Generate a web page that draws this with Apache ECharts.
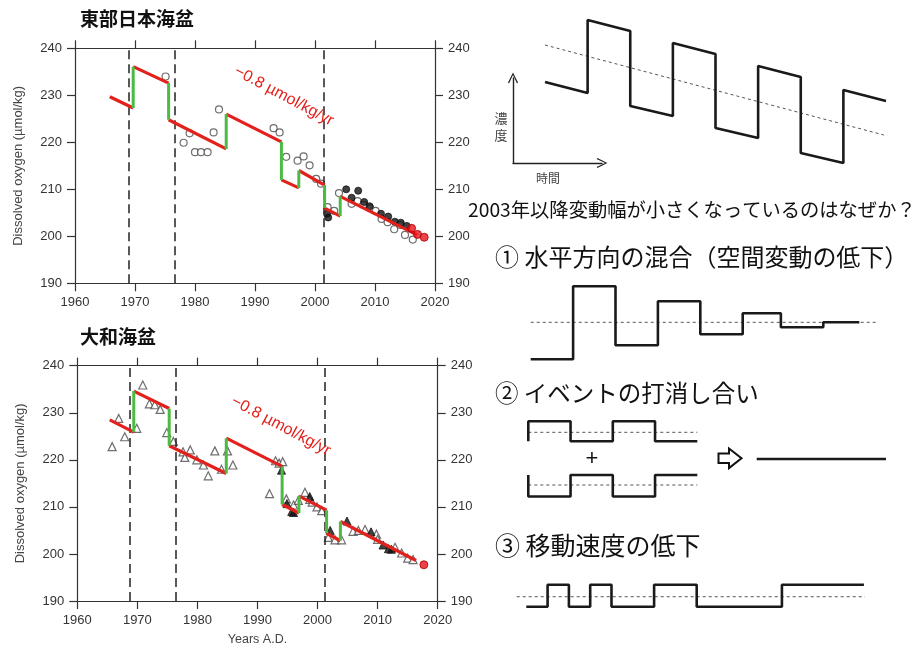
<!DOCTYPE html>
<html>
<head>
<meta charset="utf-8">
<script src="https://cdn.jsdelivr.net/npm/echarts@6/dist/echarts.min.js"></script>
<style>
  html, body { margin: 0; padding: 0; background: #fff; }
  #chart { width: 915px; height: 651px; }
</style>
</head>
<body>
<div id="chart"></div>
<script>
// ---------- 東部日本海盆 (Eastern Japan Basin) ----------
// trend segments: [startYear, startValue, endYear, endValue]
const eastSegments = [
  [1965.8, 229.7, 1969.7, 227.3],
  [1969.7, 236.1, 1975.6, 232.6],
  [1975.6, 224.8, 1985.2, 218.6],
  [1985.2, 226.0, 1994.4, 220.1],
  [1994.4, 212.0, 1997.3, 210.3],
  [1997.3, 214.0, 2001.6, 210.9],
  [2001.6, 206.0, 2004.2, 204.3],
  [2004.2, 208.5, 2017.0, 200.3]
];
const eastOpen = [
  [1975.1, 234.0], [1978.1, 219.9], [1979.1, 221.9], [1980.0, 217.9], [1981.0, 217.9],
  [1982.1, 217.9], [1983.1, 222.1], [1984.0, 227.0], [1993.1, 223.0], [1994.1, 222.1],
  [1995.2, 216.9], [1997.1, 216.1], [1998.1, 217.0], [1999.1, 215.1], [2000.2, 212.2],
  [2001.0, 211.2], [2002.1, 206.2], [2003.2, 205.4], [2004.0, 209.2], [2006.1, 206.9],
  [2007.1, 207.5], [2008.1, 206.7], [2009.2, 206.0], [2010.1, 205.4], [2011.1, 203.7],
  [2012.1, 203.0], [2013.2, 201.5], [2014.2, 202.4], [2015.0, 200.3], [2016.3, 199.3]
];
const eastBlack = [
  [2002.0, 204.8], [2002.2, 204.0], [2005.2, 210.0], [2006.1, 208.2], [2007.2, 209.7],
  [2008.2, 207.3], [2009.1, 206.4], [2011.0, 204.8], [2012.2, 204.2], [2013.3, 203.1],
  [2014.3, 202.9], [2015.3, 202.2]
];
const eastRed = [[2016.1, 201.7], [2017.1, 200.4], [2018.2, 199.8]];
const eastBreaks = [1968.9, 1976.7, 2001.5];

// ---------- 大和海盆 (Yamato Basin) ----------
const yamatoSegments = [
  [1965.4, 228.5, 1969.4, 225.9],
  [1969.4, 234.6, 1975.3, 230.9],
  [1975.3, 223.0, 1984.8, 217.1],
  [1984.8, 224.6, 1994.1, 218.6],
  [1994.1, 210.5, 1996.9, 208.7],
  [1996.9, 212.3, 2001.5, 209.3],
  [2001.5, 204.4, 2003.8, 202.8],
  [2003.8, 206.9, 2016.4, 198.6]
];
const yamatoOpen = [
  [1965.8, 222.8], [1966.9, 228.8], [1967.9, 224.9], [1969.9, 226.7], [1970.9, 235.9],
  [1972.0, 231.9], [1972.9, 231.7], [1973.8, 230.7], [1974.9, 225.8], [1976.0, 223.9],
  [1977.6, 221.7], [1977.9, 220.5], [1978.8, 222.1], [1979.9, 220.0], [1981.0, 218.9],
  [1981.8, 216.6], [1982.9, 221.9], [1984.0, 218.0], [1985.0, 221.9], [1985.9, 218.9],
  [1992.0, 212.8], [1993.0, 219.8], [1993.6, 219.3], [1994.2, 219.6], [1994.8, 211.7],
  [1996.0, 210.4], [1996.8, 211.4], [1997.9, 213.1], [1998.7, 211.6], [1999.1, 211.0],
  [1999.9, 210.0], [2000.7, 209.2], [2001.8, 203.5], [2002.9, 203.0], [2004.0, 203.0],
  [2005.9, 204.8], [2006.8, 205.0], [2007.9, 205.2], [2009.8, 204.2], [2010.0, 203.1],
  [2012.9, 201.4], [2014.0, 200.2], [2015.0, 199.1], [2015.9, 198.8]
];
const yamatoFilled = [
  [1994.0, 217.8], [1994.9, 210.7], [1995.7, 209.0], [1996.0, 208.8], [1998.7, 212.2],
  [2002.1, 205.0], [2004.9, 207.0], [2008.9, 204.7], [2010.9, 201.9], [2011.8, 201.1],
  [2012.3, 201.0]
];
const yamatoRed = [[2017.7, 197.7]];
const yamatoBreaks = [1968.7, 1976.4, 2001.2];

const yearRange = [1960, 2020, 10];
const oxygenRange = [190, 240, 10];
const trendText = '−0.8 µmol/kg/yr';

// ---------- schematic panels (arbitrary units) ----------
const sawTime = [0, 1, 1, 2, 2, 3, 3, 4, 4, 5, 5, 6, 6, 7, 7, 8];
const sawConc = [8.3, 7.2, 14.5, 13.4, 5.9, 4.9, 12.2, 11.1, 3.7, 2.7, 9.9, 8.8, 1.2, 0.2, 7.5, 6.4];
const sawTrend = [[0, 12.0], [7.95, 3.0]];

const mixBounds = [0, 1, 2, 3, 4, 5, 5.9, 6.9, 7.75];
const mixLevels = [-3.7, 3.6, -2.3, 2.1, -1.2, 0.9, -0.5, 0];
const mixSpan = 8.2;

const waveBounds = [0, 1, 2, 3, 4];
const waveA = [1.1, -0.9, 1.1, -0.9];
const waveAStart = -0.9;
const waveB = [-1.15, 1.0, -1.15, 1.0];
const waveBStart = 1.0;
const resultLevel = 0;

const moveBounds = [0.45, 1.45, 2.45, 3.45, 4.45, 6.45, 8.45, 12.45, 16.3];
const moveLevels = [-1.0, 1.2, -1.0, 1.2, -1.0, 1.2, -1.0, 1.2];
const moveSpan = 16.35;

// ---------- helpers ----------
const LATIN = 'Liberation Sans, Arial, sans-serif';
const JP = 'Noto Sans CJK JP, sans-serif';
const RED = '#e3211c';
const GREEN = '#4cbb44';
const INK = '#1a1a1a';

function stepPoints(bounds, levels, start) {
  const pts = [];
  if (start !== undefined) pts.push([bounds[0], start]);
  for (let i = 0; i < levels.length; i++) {
    pts.push([bounds[i], levels[i]]);
    pts.push([bounds[i + 1], levels[i]]);
  }
  return pts;
}

function basinSeries(segs, open, filled, red, breaks, axisIdx, openSymbol, openSize, filledSymbol) {
  const out = [];
  out.push({
    type: 'scatter', xAxisIndex: axisIdx, yAxisIndex: axisIdx, z: 3,
    symbol: openSymbol, symbolSize: openSize, data: open,
    itemStyle: { color: '#fff', borderColor: '#4a4a4a', borderWidth: 1.2 },
    markLine: {
      silent: true, symbol: ['none', 'none'], label: { show: false },
      lineStyle: { color: '#222', width: 1.5, type: [9, 5] },
      data: breaks.map(x => ({ xAxis: x }))
    }
  });
  out.push({
    type: 'scatter', xAxisIndex: axisIdx, yAxisIndex: axisIdx, z: 4,
    symbol: filledSymbol, symbolSize: openSize, data: filled,
    itemStyle: { color: '#111', borderColor: '#111', borderWidth: 1 }
  });
  segs.forEach((s, i) => {
    out.push({
      type: 'line', xAxisIndex: axisIdx, yAxisIndex: axisIdx, z: 5,
      symbol: 'none', data: [[s[0], s[1]], [s[2], s[3]]],
      lineStyle: { color: RED, width: 3.2 }
    });
    if (i > 0) {
      const p = segs[i - 1];
      out.push({
        type: 'line', xAxisIndex: axisIdx, yAxisIndex: axisIdx, z: 5,
        symbol: 'none', data: [[s[0], p[3]], [s[0], s[1]]],
        lineStyle: { color: GREEN, width: 3 }
      });
    }
  });
  out.push({
    type: 'scatter', xAxisIndex: axisIdx, yAxisIndex: axisIdx, z: 6,
    symbol: 'circle', symbolSize: 8, data: red,
    itemStyle: { color: '#e8141a', borderColor: '#a00', borderWidth: 1 }
  });
  return out;
}

const tickLabel = { color: '#333', fontSize: 13, fontFamily: LATIN, margin: 13, formatter: v => String(v) };
const axisLine = { show: true, onZero: false, lineStyle: { color: '#333', width: 1.2 } };
const axisTick = { show: true, length: 8, lineStyle: { color: '#333', width: 1.2 } };

function yearAxis(grid, pos, labels, name) {
  return {
    type: 'value', gridIndex: grid, position: pos,
    min: yearRange[0], max: yearRange[1], interval: yearRange[2],
    axisLine, axisTick, splitLine: { show: false },
    axisLabel: Object.assign({}, tickLabel, { show: labels }),
    name: name || '', nameLocation: 'middle', nameGap: 32,
    nameTextStyle: { fontFamily: LATIN, fontSize: 12.5, color: '#444' }
  };
}
function oxyAxis(grid, pos, name) {
  return {
    type: 'value', gridIndex: grid, position: pos,
    min: oxygenRange[0], max: oxygenRange[1], interval: oxygenRange[2],
    axisLine, axisTick, splitLine: { show: false },
    axisLabel: tickLabel,
    name: name || '', nameLocation: 'middle', nameGap: 50, nameRotate: 90,
    nameTextStyle: { fontFamily: LATIN, fontSize: 13, color: '#444' }
  };
}
function hiddenAxis(grid, min, max) {
  return { type: 'value', gridIndex: grid, min, max, show: false };
}

const chevron = 'path://M0,10 L5,0 L10,10 L9,10.8 L5,2.4 L1,10.8 Z';

const option = {
  animation: false,
  backgroundColor: '#fff',
  title: [
    { text: '東部日本海盆', left: 80, top: 9, padding: 0,
      textStyle: { fontFamily: JP, fontSize: 19, fontWeight: 'bold', color: '#111' } },
    { text: '大和海盆', left: 80, top: 327, padding: 0,
      textStyle: { fontFamily: JP, fontSize: 19, fontWeight: 'bold', color: '#111' } }
  ],
  grid: [
    { left: 75, top: 48.3, width: 360, height: 235 },
    { left: 77.3, top: 365.7, width: 360.4, height: 235.3 },
    { left: 545, top: 15, width: 341, height: 150 },
    { left: 513, top: 78, width: 89, height: 85 },
    { left: 530.7, top: 282.3, width: 347.7, height: 80 },
    { left: 528.3, top: 412.3, width: 169, height: 40 },
    { left: 528.3, top: 465, width: 169, height: 40 },
    { left: 756.7, top: 439, width: 129.3, height: 40 },
    { left: 516.7, top: 576.7, width: 348.3, height: 40 }
  ],
  xAxis: [
    yearAxis(0, 'bottom', true),
    yearAxis(0, 'top', false),
    yearAxis(1, 'bottom', true, 'Years A.D.'),
    yearAxis(1, 'top', false),
    hiddenAxis(2, 0, 8),
    { type: 'value', gridIndex: 3, min: 0, max: 1,
      axisLine: { show: true, onZero: false, symbol: ['none', chevron], symbolSize: [10, 11],
        lineStyle: { color: '#222', width: 1.4 } },
      axisTick: { show: false }, axisLabel: { show: false }, splitLine: { show: false } },
    hiddenAxis(4, 0, mixSpan),
    hiddenAxis(5, 0, 4),
    hiddenAxis(6, 0, 4),
    hiddenAxis(7, 0, 1),
    hiddenAxis(8, 0, moveSpan)
  ],
  yAxis: [
    oxyAxis(0, 'left', 'Dissolved oxygen (µmol/kg)'),
    oxyAxis(0, 'right'),
    oxyAxis(1, 'left', 'Dissolved oxygen (µmol/kg)'),
    oxyAxis(1, 'right'),
    hiddenAxis(2, 0, 15),
    { type: 'value', gridIndex: 3, min: 0, max: 1,
      axisLine: { show: true, onZero: false, symbol: ['none', chevron], symbolSize: [10, 11],
        lineStyle: { color: '#222', width: 1.4 } },
      axisTick: { show: false }, axisLabel: { show: false }, splitLine: { show: false } },
    hiddenAxis(4, -4, 4),
    hiddenAxis(5, -2, 2),
    hiddenAxis(6, -2, 2),
    hiddenAxis(7, -2, 2),
    hiddenAxis(8, -2, 2)
  ],
  series: [],
  graphic: []
};

option.series.push(...basinSeries(eastSegments, eastOpen, eastBlack, eastRed, eastBreaks, 0, 'circle', 7, 'circle'));
option.series.push(...basinSeries(yamatoSegments, yamatoOpen, yamatoFilled, yamatoRed, yamatoBreaks, 2, 'triangle', 8, 'triangle'));

const dotted = { color: '#555', width: 1, type: [3, 3] };
const bold = { color: INK, width: 2.6 };

// concentration vs. time sawtooth with its long-term trend
option.series.push(
  { type: 'line', xAxisIndex: 4, yAxisIndex: 4, symbol: 'none', data: sawTrend, lineStyle: dotted },
  { type: 'line', xAxisIndex: 4, yAxisIndex: 4, symbol: 'none',
    data: sawTime.map((t, i) => [t, sawConc[i]]), lineStyle: bold }
);
// ① horizontal mixing: decaying anomalies
option.series.push(
  { type: 'line', xAxisIndex: 6, yAxisIndex: 6, symbol: 'none', data: [[0, 0], [mixSpan, 0]], lineStyle: dotted },
  { type: 'line', xAxisIndex: 6, yAxisIndex: 6, symbol: 'none', data: stepPoints(mixBounds, mixLevels), lineStyle: bold }
);
// ② two events cancelling each other
option.series.push(
  { type: 'line', xAxisIndex: 7, yAxisIndex: 7, symbol: 'none', data: [[0, 0], [4, 0]], lineStyle: dotted },
  { type: 'line', xAxisIndex: 7, yAxisIndex: 7, symbol: 'none', data: stepPoints(waveBounds, waveA, waveAStart), lineStyle: bold },
  { type: 'line', xAxisIndex: 8, yAxisIndex: 8, symbol: 'none', data: [[0, 0], [4, 0]], lineStyle: dotted },
  { type: 'line', xAxisIndex: 8, yAxisIndex: 8, symbol: 'none', data: stepPoints(waveBounds, waveB, waveBStart), lineStyle: bold },
  { type: 'line', xAxisIndex: 9, yAxisIndex: 9, symbol: 'none', data: [[0, resultLevel], [1, resultLevel]], lineStyle: bold }
);
// ③ slower movement: longer, sparser anomalies
option.series.push(
  { type: 'line', xAxisIndex: 10, yAxisIndex: 10, symbol: 'none', data: [[0, 0], [moveSpan, 0]], lineStyle: dotted },
  { type: 'line', xAxisIndex: 10, yAxisIndex: 10, symbol: 'none', data: stepPoints(moveBounds, moveLevels), lineStyle: bold }
);

function txt(x, y, text, size, opts) {
  return Object.assign({
    type: 'text', x, y, z: 20,
    style: Object.assign({
      text, fill: '#111', font: size + 'px ' + JP,
      textAlign: 'left', align: 'left', textVerticalAlign: 'middle', verticalAlign: 'middle'
    }, (opts && opts.style) || {})
  }, (opts && opts.el) || {});
}
const rot = -28 * Math.PI / 180;
const centred = { textAlign: 'center', align: 'center' };
option.graphic.push(
  txt(284, 96, trendText, 16, { style: { fill: RED, font: '16px ' + LATIN, textAlign: 'center', align: 'center' }, el: { rotation: rot } }),
  txt(281, 426, trendText, 16, { style: { fill: RED, font: '16px ' + LATIN, textAlign: 'center', align: 'center' }, el: { rotation: rot } }),
  txt(501, 118, '濃', 13, { style: Object.assign({ fill: '#444' }, centred) }),
  txt(501, 135, '度', 13, { style: Object.assign({ fill: '#444' }, centred) }),
  txt(548, 178, '時間', 12, { style: Object.assign({ fill: '#444' }, centred) }),
  txt(468, 210, '2003年以降変動幅が小さくなっているのはなぜか？', 19.3),
  txt(495, 257, '① 水平方向の混合（空間変動の低下）', 24),
  txt(495, 393, '② イベントの打消し合い', 23.5),
  txt(495, 545, '③ 移動速度の低下', 25),
  txt(592, 459, '+', 22, { style: { textAlign: 'center', align: 'center', font: '22px ' + LATIN } }),
  { type: 'polygon', z: 20,
    shape: { points: [[718.5, 453.6], [729, 453.6], [729, 448.5], [741.5, 458.3], [729, 468.1], [729, 463], [718.5, 463]] },
    style: { fill: '#fff', stroke: '#111', lineWidth: 2 } }
);

const chart = echarts.init(document.getElementById('chart'), null, { renderer: 'canvas' });
chart.setOption(option);
</script>
</body>
</html>
